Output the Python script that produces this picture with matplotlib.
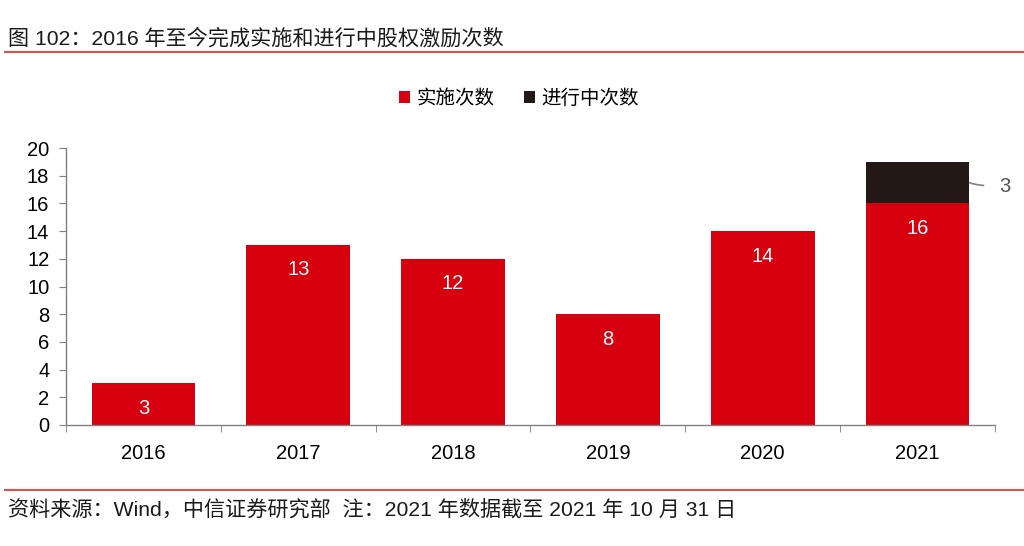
import matplotlib
matplotlib.use("Agg")
import matplotlib.pyplot as plt
import numpy as np

plt.rcParams["font.family"] = ["Liberation Sans", "Noto Sans CJK SC", "DejaVu Sans"]

years = ["2016", "2017", "2018", "2019", "2020", "2021"]
done = [3, 13, 12, 8, 14, 16]
ongoing = [0, 0, 0, 0, 0, 3]

RED = "#d7000f"
DARK = "#231815"
GREY = "#808080"

fig = plt.figure(figsize=(10.24, 5.46), dpi=100)
ax = fig.add_axes([66 / 1024, 1 - 425 / 546, (995 - 66) / 1024, (425 - 148) / 546])

x = np.arange(len(years))
w = 0.67
ax.bar(x, done, w, color=RED, label="实施次数", zorder=2)
ax.bar(x, ongoing, w, bottom=done, color=DARK, label="进行中次数", zorder=2)

for xi, v in zip(x, done):
    ax.annotate(f"{v}", (xi, v), textcoords="offset pixels", xytext=(0, -25),
                ha="center", va="center", color="white", fontsize=14.5)

# callout for the ongoing segment of 2021
i = len(years) - 1
ymid = done[i] + ongoing[i] / 2
ax.annotate(f"{ongoing[i]}", xy=(x[i] + w / 2, ymid), xytext=(x[i] + w / 2 + 0.19, ymid - 0.25),
            ha="left", va="center", color="#555555", fontsize=14.5,
            arrowprops=dict(arrowstyle="-", color=GREY, lw=1.2,
                            connectionstyle="angle3,angleA=0,angleB=-30",
                            shrinkA=9, shrinkB=0))

ax.set_xlim(-0.5, len(years) - 0.5)
ax.set_ylim(0, 20)
ax.set_yticks(range(0, 21, 2))
ax.set_xticks(x)
ax.set_xticklabels(years)
ax.set_xticks(np.arange(-0.5, len(years)), minor=True)
ax.tick_params(axis="x", which="major", length=0, pad=14, labelsize=14.5)
ax.tick_params(axis="x", which="minor", length=5, color=GREY, direction="out")
ax.tick_params(axis="y", length=5, color=GREY, direction="out", labelsize=14.5, pad=7)
for s in ("top", "right"):
    ax.spines[s].set_visible(False)
for s in ("left", "bottom"):
    ax.spines[s].set_color(GREY)
    ax.spines[s].set_linewidth(1.0)

fig.legend(loc="center", bbox_to_anchor=(0.507, 1 - 99 / 546), ncol=2, frameon=False,
           fontsize=14, handlelength=0.55, handleheight=0.55, handletextpad=0.35,
           columnspacing=1.5)

fig.text(8 / 1024, 1 - 38 / 546, "图 102：2016 年至今完成实施和进行中股权激励次数",
         fontsize=15.2, va="center", ha="left", color="#1a1a1a")
fig.add_artist(plt.Line2D([5 / 1024, 1], [1 - 52 / 546] * 2, color="#d9534f", lw=1.5,
                          transform=fig.transFigure))
fig.add_artist(plt.Line2D([5 / 1024, 1], [1 - 490 / 546] * 2, color="#d9534f", lw=1.5,
                          transform=fig.transFigure))
fig.text(8 / 1024, 1 - 509 / 546,
         "资料来源：Wind，中信证券研究部  注：2021 年数据截至 2021 年 10 月 31 日",
         fontsize=15.2, va="center", ha="left", color="#1a1a1a")

fig.savefig("out.png", dpi=100)
